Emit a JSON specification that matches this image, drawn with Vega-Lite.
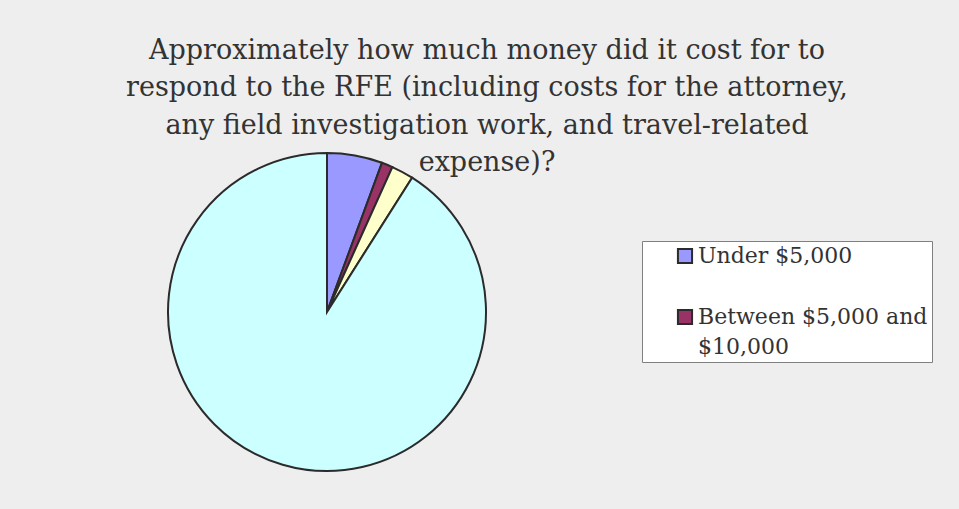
{
  "$schema": "https://vega.github.io/schema/vega-lite/v6.json",
  "autosize": {"type": "none"},
  "width": 654,
  "height": 394,
  "padding": {"left": 0, "top": 115, "right": 305, "bottom": 0},
  "background": "#eeeeee",
  "config": {
    "view": {"stroke": null},
    "style": {"guide-label": {"lineHeight": 30}}
  },
  "title": {
    "text": [
      "Approximately how much money did it cost for to",
      "respond to the RFE (including costs for the attorney,",
      "any field investigation work, and travel-related",
      "expense)?"
    ],
    "font": "DejaVu Serif",
    "fontSize": 27,
    "fontWeight": "normal",
    "color": "#333333",
    "lineHeight": 37.3,
    "anchor": "middle",
    "dx": 160,
    "offset": -62
  },
  "data": {
    "values": [
      {"category": "Under $5,000", "count": 5, "rank": 1},
      {"category": "Between $5,000 and $10,000", "count": 1, "rank": 2},
      {"category": "Between $10,000 and $25,000", "count": 2, "rank": 3},
      {"category": "Don't know", "count": 81, "rank": 4}
    ]
  },
  "mark": {"type": "arc", "radius": 159, "stroke": "#2b2b2b", "strokeWidth": 2, "strokeJoin": "miter"},
  "encoding": {
    "theta": {"field": "count", "type": "quantitative", "stack": true},
    "order": {"field": "rank", "type": "quantitative", "sort": "ascending"},
    "color": {
      "field": "category",
      "type": "nominal",
      "sort": ["Under $5,000", "Between $5,000 and $10,000", "Between $10,000 and $25,000", "Don't know"],
      "scale": {
        "domain": ["Under $5,000", "Between $5,000 and $10,000", "Between $10,000 and $25,000", "Don't know"],
        "range": ["#9999ff", "#993366", "#ffffcc", "#ccffff"]
      },
      "legend": {
        "orient": "none",
        "legendX": 642,
        "legendY": 126,
        "values": ["Under $5,000", "Between $5,000 and $10,000"],
        "title": null,
        "fillColor": "#ffffff",
        "strokeColor": "#808080",
        "padding": 4,
        "symbolOffset": 28,
        "symbolType": "square",
        "symbolSize": 200,
        "symbolStrokeColor": "#2b2b2b",
        "symbolStrokeWidth": 2,
        "symbolOpacity": 1,
        "labelFont": "DejaVu Serif",
        "labelFontSize": 22,
        "labelColor": "#333333",
        "labelLimit": 400,
        "labelOffset": 2,
        "labelBaseline": "middle",
        "rowPadding": 37,
        "labelExpr": "datum.label == 'Between $5,000 and $10,000' ? ['Between $5,000 and\u00a0\u00a0\u00a0\u00a0\u00a0\u00a0', '$10,000'] : datum.label"
      }
    }
  }
}
